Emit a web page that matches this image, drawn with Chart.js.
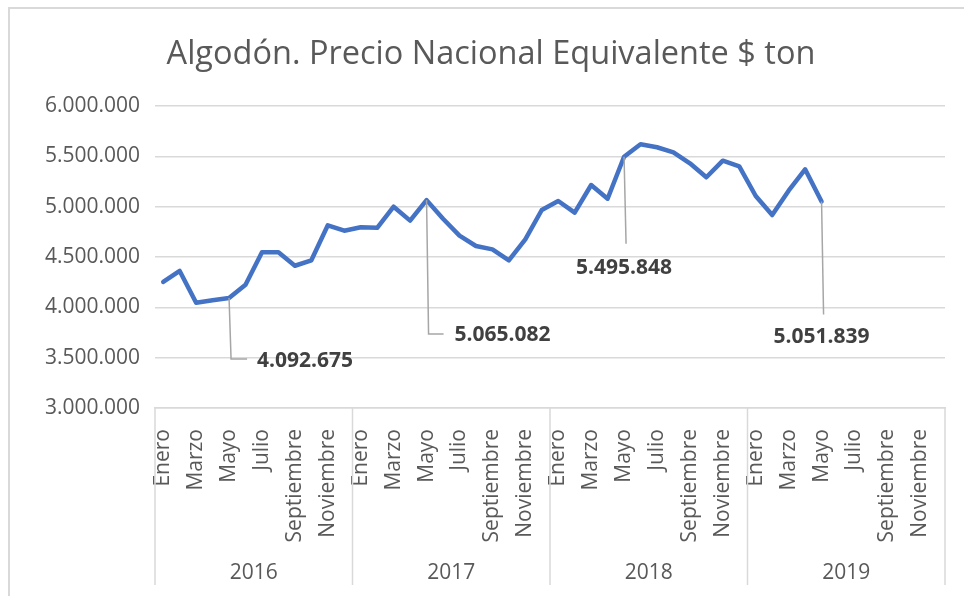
<!DOCTYPE html>
<html>
<head>
<meta charset="utf-8">
<script src="https://cdn.jsdelivr.net/npm/chart.js@4.4.1/dist/chart.umd.min.js"></script>
<style>
  body { margin: 0; background: #fff; }
  #wrap { width: 964px; height: 596px; position: relative; }
</style>
</head>
<body>
<div id="wrap"><canvas id="precio-chart" width="964" height="596"></canvas></div>
<script>
// Datos: precio nacional equivalente del algodón ($/ton), mensual
const months = ['Enero', 'Febrero', 'Marzo', 'Abril', 'Mayo', 'Junio', 'Julio', 'Agosto', 'Septiembre', 'Octubre', 'Noviembre', 'Diciembre'];
const years = ['2016', '2017', '2018', '2019'];

const precio2016 = [4252000, 4361000, 4046000, 4070000, 4092675, 4225000, 4547000, 4547000, 4413000, 4467000, 4815000, 4761000];
const precio2017 = [4795000, 4790000, 5000000, 4861000, 5065082, 4880000, 4712000, 4609000, 4576000, 4467000, 4675000, 4967000];
const precio2018 = [5056000, 4940000, 5215000, 5079000, 5495848, 5620000, 5590000, 5540000, 5431000, 5292000, 5457000, 5401000];
const precio2019 = [5106000, 4917000, 5159000, 5371000, 5051839, null, null, null, null, null, null, null];

const yTicks = { min: 3000000, max: 6000000, step: 500000 };

// puntos con etiqueta (índices en la serie completa)
const labeledPoints = [4, 16, 28, 40];

// posición de cada etiqueta respecto a su punto (solo estilo)
const labelStyle = [
    { drop: 61, hook: 16, dx: 28, dy: 63, align: 'left' },
    { drop: 134, hook: 15, dx: 28, dy: 135, align: 'left' },
    { drop: 87, hook: 0, dx: 0, dy: 111, align: 'center' },
    { drop: 113, hook: 0, dx: 0, dy: 136, align: 'center' }
];

const labels = [];
years.forEach(y => months.forEach(m => labels.push(m + ' ' + y)));
const values = [].concat(precio2016, precio2017, precio2018, precio2019);

function fmt(v) {
    return String(Math.round(v)).replace(/\B(?=(\d{3})+(?!\d))/g, '.');
}

const FONT = "'Open Sans', 'Liberation Sans', sans-serif";
const GRID = '#d9d9d9';
const TEXT = '#595959';

// borde del gráfico, etiquetas de datos y fila de años
const excelExtras = {
    id: 'excelExtras',
    beforeDraw(chart) {
        const ctx = chart.ctx;
        ctx.save();
        ctx.strokeStyle = GRID;
        ctx.lineWidth = 2;
        ctx.beginPath();
        ctx.moveTo(9, chart.height);
        ctx.lineTo(9, 8);
        ctx.lineTo(chart.width, 8);
        ctx.stroke();
        ctx.restore();
    },
    afterDraw(chart) {
        const ctx = chart.ctx;
        const x = chart.scales.x;
        const area = chart.chartArea;
        const slot = x.getPixelForValue(1) - x.getPixelForValue(0);
        ctx.save();

        // separadores y años
        ctx.strokeStyle = GRID;
        ctx.lineWidth = 1.5;
        for (let k = 0; k <= years.length; k++) {
            const px = x.getPixelForValue(k * 12) - slot / 2;
            ctx.beginPath();
            ctx.moveTo(px, area.bottom);
            ctx.lineTo(px, 585);
            ctx.stroke();
        }
        ctx.fillStyle = TEXT;
        ctx.font = '21px ' + FONT;
        ctx.textAlign = 'center';
        ctx.textBaseline = 'middle';
        years.forEach((y, k) => {
            const cx = (x.getPixelForValue(k * 12) + x.getPixelForValue(k * 12 + 11)) / 2;
            ctx.fillText(y, cx, 573);
        });

        // etiquetas de datos con líneas guía
        const meta = chart.getDatasetMeta(0);
        labeledPoints.forEach((idx, i) => {
            const pt = meta.data[idx];
            const s = labelStyle[i];
            ctx.strokeStyle = '#a6a6a6';
            ctx.lineWidth = 1.5;
            ctx.beginPath();
            ctx.moveTo(pt.x, pt.y);
            ctx.lineTo(pt.x + 2, pt.y + s.drop);
            if (s.hook) ctx.lineTo(pt.x + 2 + s.hook, pt.y + s.drop);
            ctx.stroke();
            ctx.fillStyle = '#404040';
            ctx.font = 'bold 21px ' + FONT;
            ctx.textAlign = s.align;
            ctx.fillText(fmt(values[idx]), pt.x + s.dx, pt.y + s.dy);
        });
        ctx.restore();
    }
};

const ctx = document.getElementById('precio-chart').getContext('2d');
const precioChart = new Chart(ctx, {
    type: 'line',
    data: {
        labels: labels,
        datasets: [{
            label: 'Precio Nacional Equivalente',
            data: values,
            borderColor: '#4472C4',
            borderWidth: 4.5,
            pointRadius: 0,
            tension: 0,
            borderCapStyle: 'round',
            borderJoinStyle: 'round'
        }]
    },
    options: {
        responsive: false,
        animation: false,
        layout: { padding: { left: 37, right: 19, top: 0, bottom: 0 } },
        plugins: {
            legend: { display: false },
            tooltip: { enabled: false },
            title: {
                display: true,
                text: 'Algodón. Precio Nacional Equivalente $ ton',
                color: TEXT,
                font: { family: FONT, size: 32.5, weight: 'normal' },
                padding: { top: 35, bottom: 32 }
            }
        },
        scales: {
            x: {
                offset: true,
                grid: { display: false },
                border: { color: GRID, width: 1.5 },
                ticks: {
                    autoSkip: false,
                    minRotation: 90,
                    maxRotation: 90,
                    padding: 13,
                    color: TEXT,
                    font: { family: FONT, size: 21 },
                    callback: (val, i) => (i % 2 === 0 ? months[i % 12] : '')
                },
                afterFit: scale => {
                    scale.height = 188;
                    scale.paddingLeft = 0;
                    scale.paddingRight = 0;
                }
            },
            y: {
                min: yTicks.min,
                max: yTicks.max,
                grid: { color: GRID, lineWidth: 1.5, drawTicks: false },
                border: { display: false },
                ticks: {
                    stepSize: yTicks.step,
                    padding: 15,
                    color: TEXT,
                    font: { family: FONT, size: 21 },
                    callback: v => fmt(v)
                },
                afterFit: scale => { scale.width = 118; }
            }
        }
    },
    plugins: [excelExtras]
});
</script>
</body>
</html>
